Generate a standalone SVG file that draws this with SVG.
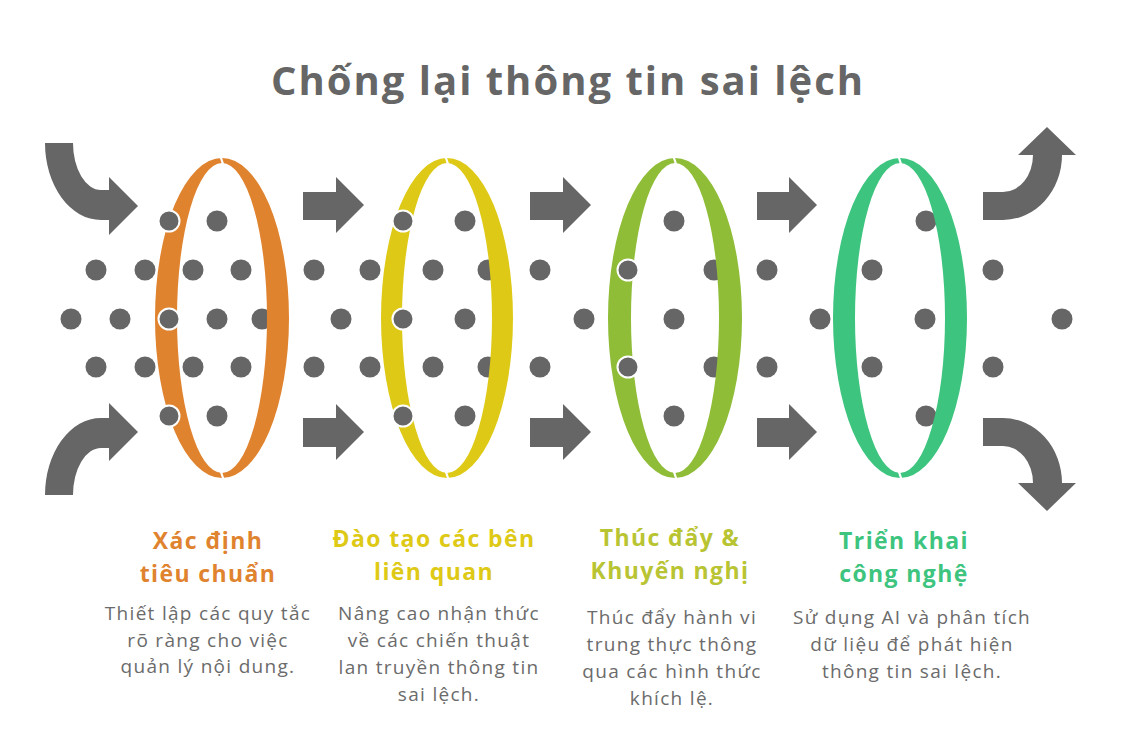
<svg xmlns="http://www.w3.org/2000/svg" width="1136" height="738" viewBox="0 0 1136 738">
<style>
.bg{fill:#ffffff}
.ar{fill:#666666}
.dot{fill:#666666}
.dot2{fill:#666666;stroke:#ffffff;stroke-width:2}
.rg{fill-rule:evenodd}
.cut{stroke:#ffffff;stroke-width:2.2;fill:none}
.title{font-family:"Open Sans","Noto Sans","DejaVu Sans",sans-serif;font-weight:700;font-size:40px;letter-spacing:2px;fill:#666666;text-anchor:middle}
.lab{font-family:"Open Sans","Noto Sans","DejaVu Sans",sans-serif;font-weight:700;font-size:23px;letter-spacing:1.4px;text-anchor:middle}
.desc{font-family:"Open Sans","Noto Sans","DejaVu Sans",sans-serif;font-weight:400;font-size:19px;letter-spacing:1.3px;fill:#6b6b6b;text-anchor:middle}
</style>
<defs>
<circle id="d" r="10.5"/>
</defs>
<rect class="bg" x="0" y="0" width="1136" height="738"/>
<text class="title" x="568" y="95">Chống lại thông tin sai lệch</text>

<g id="connectors">
<path class="ar" d="M45,143 L73,143 A28,47 0 0 0 101,190 L109,190 L109,177 L138,206 L109,235 L109,220 L101,220 A56,77 0 0 1 45,143 Z"/>
<path class="ar" d="M45,495 L73,495 A28,47 0 0 1 101,448 L109,448 L109,461 L138,432 L109,403 L109,418 L101,418 A56,77 0 0 0 45,495 Z"/>
<path class="ar" d="M303,192 L336,192 L336,177 L364,205 L336,233 L336,220 L303,220 Z"/>
<path class="ar" d="M303,418 L336,418 L336,404 L364,432 L336,460 L336,447 L303,447 Z"/>
<path class="ar" d="M530,192 L563,192 L563,177 L591,205 L563,233 L563,220 L530,220 Z"/>
<path class="ar" d="M530,418 L563,418 L563,404 L591,432 L563,460 L563,447 L530,447 Z"/>
<path class="ar" d="M757,192 L789,192 L789,177 L817,205 L789,233 L789,220 L757,220 Z"/>
<path class="ar" d="M757,418 L789,418 L789,404 L817,432 L789,460 L789,447 L757,447 Z"/>
<path class="ar" d="M983,192 L1003,192 A30,37 0 0 0 1033,155 L1018,155 L1047,127 L1076,155 L1062,155 A59,65 0 0 1 1003,220 L983,220 Z"/>
<path class="ar" d="M983,446 L1003,446 A30,37 0 0 1 1033,483 L1018,483 L1047,511 L1076,483 L1062,483 A59,65 0 0 0 1003,418 L983,418 Z"/>
</g>

<g id="dots">
<use href="#d" class="dot" x="217" y="221"/>
<use href="#d" class="dot" x="465" y="221"/>
<use href="#d" class="dot" x="674" y="221"/>
<use href="#d" class="dot" x="926" y="221"/>
<use href="#d" class="dot" x="96" y="270"/>
<use href="#d" class="dot" x="145" y="270"/>
<use href="#d" class="dot" x="193" y="270"/>
<use href="#d" class="dot" x="241" y="270"/>
<use href="#d" class="dot" x="314" y="270"/>
<use href="#d" class="dot" x="370" y="270"/>
<use href="#d" class="dot" x="433" y="270"/>
<use href="#d" class="dot" x="488" y="270"/>
<use href="#d" class="dot" x="540" y="270"/>
<use href="#d" class="dot" x="714" y="270"/>
<use href="#d" class="dot" x="767" y="270"/>
<use href="#d" class="dot" x="872" y="270"/>
<use href="#d" class="dot" x="993" y="270"/>
<use href="#d" class="dot" x="71" y="319"/>
<use href="#d" class="dot" x="120" y="319"/>
<use href="#d" class="dot" x="217" y="319"/>
<use href="#d" class="dot" x="262" y="319"/>
<use href="#d" class="dot" x="341" y="319"/>
<use href="#d" class="dot" x="465" y="319"/>
<use href="#d" class="dot" x="584" y="319"/>
<use href="#d" class="dot" x="674" y="319"/>
<use href="#d" class="dot" x="820" y="319"/>
<use href="#d" class="dot" x="925" y="319"/>
<use href="#d" class="dot" x="1062" y="319"/>
<use href="#d" class="dot" x="96" y="367"/>
<use href="#d" class="dot" x="145" y="367"/>
<use href="#d" class="dot" x="193" y="367"/>
<use href="#d" class="dot" x="241" y="367"/>
<use href="#d" class="dot" x="314" y="367"/>
<use href="#d" class="dot" x="370" y="367"/>
<use href="#d" class="dot" x="433" y="367"/>
<use href="#d" class="dot" x="488" y="367"/>
<use href="#d" class="dot" x="540" y="367"/>
<use href="#d" class="dot" x="714" y="367"/>
<use href="#d" class="dot" x="767" y="367"/>
<use href="#d" class="dot" x="872" y="367"/>
<use href="#d" class="dot" x="993" y="367"/>
<use href="#d" class="dot" x="217" y="416"/>
<use href="#d" class="dot" x="465" y="416"/>
<use href="#d" class="dot" x="674" y="416"/>
<use href="#d" class="dot" x="926" y="416"/>
</g>

<g id="ring1">
<path class="rg" fill="#E0832F" d="M155,318 A67,160 0 1 0 289,318 A67,160 0 1 0 155,318 Z M177,318 A45,155 0 1 0 267,318 A45,155 0 1 0 177,318 Z"/>
<path class="cut" d="M220,155 L224,167 M220,469 L224,481"/>
<use href="#d" class="dot2" x="169" y="221"/>
<use href="#d" class="dot2" x="169" y="319"/>
<use href="#d" class="dot2" x="169" y="416"/>
<text class="lab" fill="#E0832F" x="208" y="549">Xác định</text>
<text class="lab" fill="#E0832F" x="208" y="582">tiêu chuẩn</text>
<text class="desc" x="208" y="620">Thiết lập các quy tắc</text>
<text class="desc" x="208" y="647">rõ ràng cho việc</text>
<text class="desc" x="208" y="673">quản lý nội dung.</text>
</g>

<g id="ring2">
<path class="rg" fill="#DECA16" d="M381,318 A66,160 0 1 0 513,318 A66,160 0 1 0 381,318 Z M402,318 A45,155 0 1 0 492,318 A45,155 0 1 0 402,318 Z"/>
<path class="cut" d="M445,155 L449,167 M445,469 L449,481"/>
<use href="#d" class="dot2" x="403" y="221"/>
<use href="#d" class="dot2" x="403" y="319"/>
<use href="#d" class="dot2" x="403" y="416"/>
<text class="lab" fill="#DECA16" x="434" y="547">Đào tạo các bên</text>
<text class="lab" fill="#DECA16" x="434" y="580">liên quan</text>
<text class="desc" x="439" y="620">Nâng cao nhận thức</text>
<text class="desc" x="439" y="647">về các chiến thuật</text>
<text class="desc" x="439" y="674">lan truyền thông tin</text>
<text class="desc" x="439" y="701">sai lệch.</text>
</g>

<g id="ring3">
<path class="rg" fill="#8FBD37" d="M608,318 A67,160 0 1 0 742,318 A67,160 0 1 0 608,318 Z M631,318 A44,155 0 1 0 719,318 A44,155 0 1 0 631,318 Z"/>
<path class="cut" d="M673,155 L677,167 M673,469 L677,481"/>
<use href="#d" class="dot2" x="628" y="270"/>
<use href="#d" class="dot2" x="628" y="367"/>
<text class="lab" fill="#B9C432" x="670" y="546">Thúc đẩy &amp;</text>
<text class="lab" fill="#B9C432" x="670" y="579">Khuyến nghị</text>
<text class="desc" x="672" y="624">Thúc đẩy hành vi</text>
<text class="desc" x="672" y="651">trung thực thông</text>
<text class="desc" x="672" y="678">qua các hình thức</text>
<text class="desc" x="672" y="705">khích lệ.</text>
</g>

<g id="ring4">
<path class="rg" fill="#3DC47E" d="M833,318 A67,160 0 1 0 967,318 A67,160 0 1 0 833,318 Z M855,318 A45,155 0 1 0 945,318 A45,155 0 1 0 855,318 Z"/>
<path class="cut" d="M898,155 L902,167 M898,469 L902,481"/>
<text class="lab" fill="#3DC47E" x="904" y="549">Triển khai</text>
<text class="lab" fill="#3DC47E" x="904" y="582">công nghệ</text>
<text class="desc" x="912" y="624">Sử dụng AI và phân tích</text>
<text class="desc" x="912" y="651">dữ liệu để phát hiện</text>
<text class="desc" x="912" y="678">thông tin sai lệch.</text>
</g>
</svg>
